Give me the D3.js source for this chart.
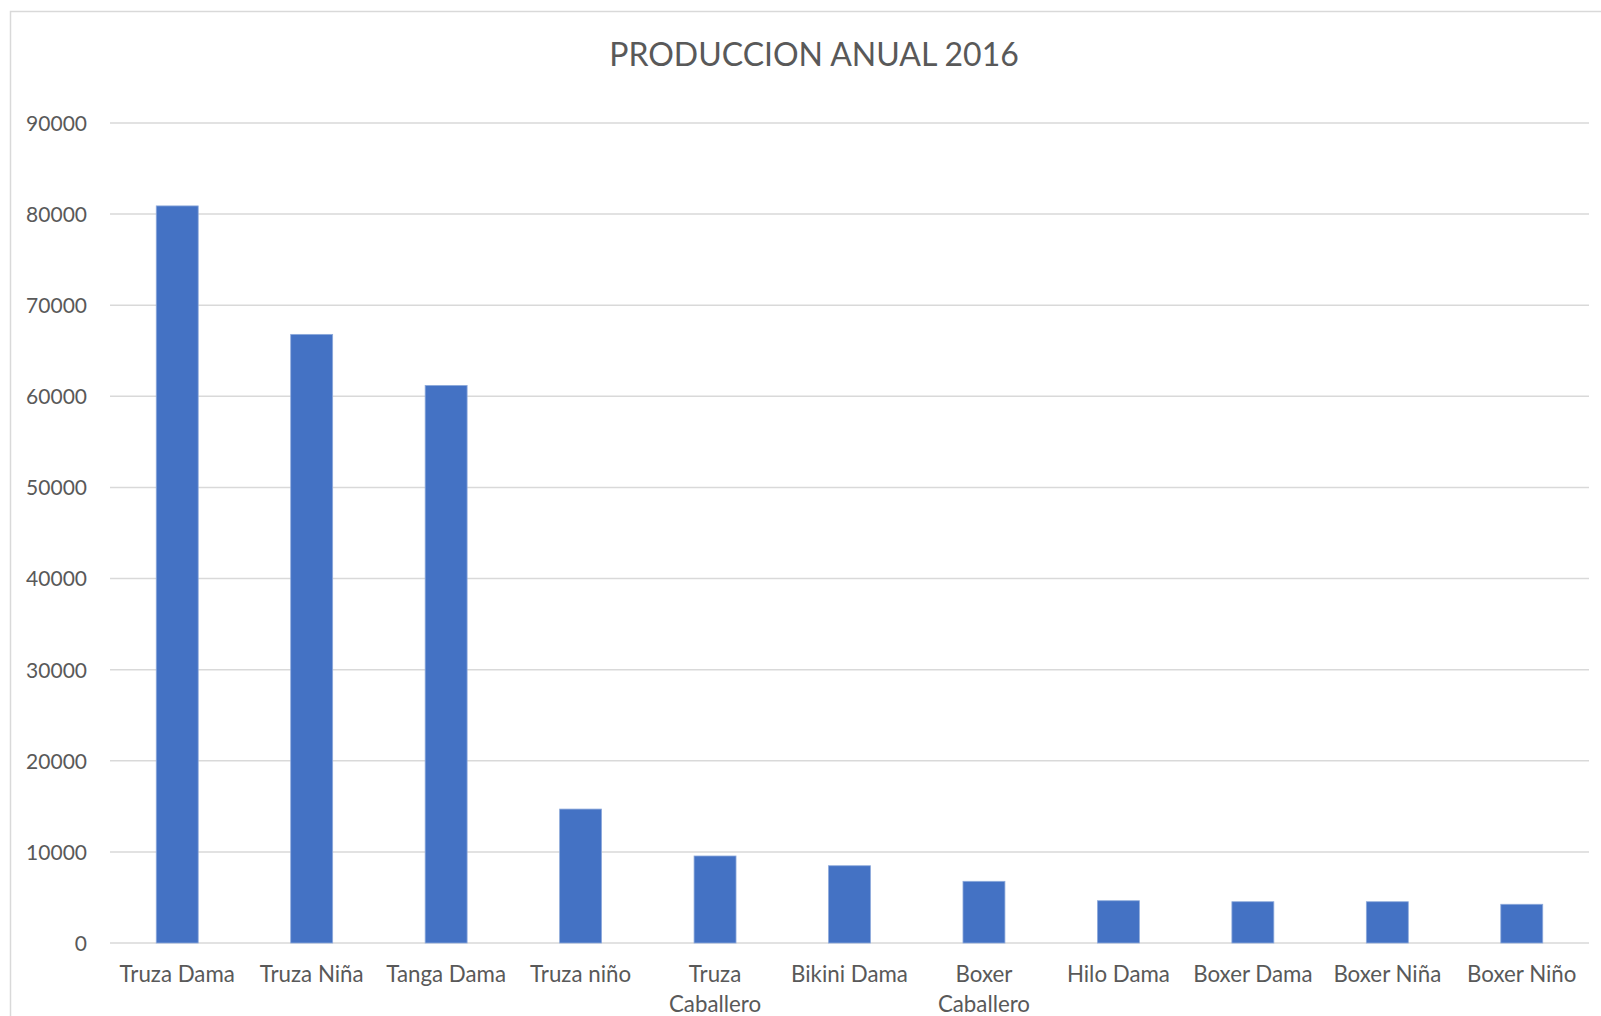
<!DOCTYPE html>
<html>
<head>
<meta charset="utf-8">
<script src="https://cdn.jsdelivr.net/npm/d3@7"></script>
<style>
  html, body { margin: 0; padding: 0; background: #fff; overflow: hidden; }
  svg { display: block; }
  text { font-family: Lato, "Open Sans", sans-serif; fill: #595959; }
</style>
</head>
<body>
<svg id="chart" width="1601" height="1016"></svg>
<script>
// Annual production per product line, 2016
const categories = [
  "Truza Dama", "Truza Niña", "Tanga Dama", "Truza niño", "Truza Caballero",
  "Bikini Dama", "Boxer Caballero", "Hilo Dama", "Boxer Dama", "Boxer Niña", "Boxer Niño"
];
const produccion = [80900, 66800, 61200, 14700, 9550, 8480, 6770, 4640, 4530, 4530, 4250];
const yTicks = [0, 10000, 20000, 30000, 40000, 50000, 60000, 70000, 80000, 90000];
const title = "PRODUCCION ANUAL 2016";

const svg = d3.select("#chart");
const W = 1601, H = 1016;
const plot = { left: 110, right: 1589, top: 123, bottom: 943 };

// chart-area frame (top and left edges visible)
svg.append("path")
  .attr("d", `M10.5,${H} L10.5,11.5 L${W},11.5`)
  .attr("fill", "none")
  .attr("stroke", "#d9d9d9")
  .attr("stroke-width", 1.5);

const x = d3.scaleBand()
  .domain(categories)
  .range([plot.left, plot.right])
  .paddingInner(0.688)
  .paddingOuter(0.344);

const y = d3.scaleLinear()
  .domain([0, 90000])
  .range([plot.bottom, plot.top]);

// horizontal gridlines
svg.append("g")
  .selectAll("line")
  .data(yTicks)
  .join("line")
  .attr("x1", plot.left)
  .attr("x2", plot.right)
  .attr("y1", d => y(d))
  .attr("y2", d => y(d))
  .attr("stroke", "#d9d9d9")
  .attr("stroke-width", 1.5);

// y axis labels
const yAxis = d3.axisLeft(y)
  .tickValues(yTicks)
  .tickFormat(d3.format("d"))
  .tickSize(0)
  .tickPadding(23);
const gy = svg.append("g")
  .attr("transform", `translate(${plot.left},0)`)
  .call(yAxis);
gy.select(".domain").remove();
gy.selectAll("text")
  .attr("font-size", 21)
  .attr("fill", "#595959")
  .attr("dy", "0.35em")
  .style("font-family", "Lato, 'Open Sans', sans-serif");

// bars
svg.append("g")
  .selectAll("rect")
  .data(categories.map((c, i) => ({ c, v: produccion[i] })))
  .join("rect")
  .attr("x", d => x(d.c))
  .attr("width", x.bandwidth())
  .attr("y", d => y(d.v))
  .attr("height", d => y(0) - y(d.v))
  .attr("fill", "#4472c4")
  .attr("stroke", "#8eaadb")
  .attr("stroke-width", 0.8);

// x axis category labels (wrapped on two lines where long)
const xAxis = d3.axisBottom(x).tickSize(0).tickFormat("");
const gx = svg.append("g")
  .attr("transform", `translate(0,${plot.bottom})`)
  .call(xAxis);
gx.select(".domain").remove();

const wrapped = {
  "Truza Caballero": ["Truza", "Caballero"],
  "Boxer Caballero": ["Boxer", "Caballero"]
};
svg.append("g")
  .selectAll("text")
  .data(categories)
  .join("text")
  .attr("x", d => x(d) + x.bandwidth() / 2)
  .attr("y", 982)
  .attr("text-anchor", "middle")
  .attr("font-size", 22.3)
  .each(function(d) {
    const lines = wrapped[d] || [d];
    d3.select(this).selectAll("tspan")
      .data(lines)
      .join("tspan")
      .attr("x", x(d) + x.bandwidth() / 2)
      .attr("dy", (l, i) => i === 0 ? 0 : 29.5)
      .text(l => l);
  });

// title
svg.append("text")
  .attr("x", 814)
  .attr("y", 66)
  .attr("text-anchor", "middle")
  .attr("font-size", 32)
  .text(title);
</script>
</body>
</html>
